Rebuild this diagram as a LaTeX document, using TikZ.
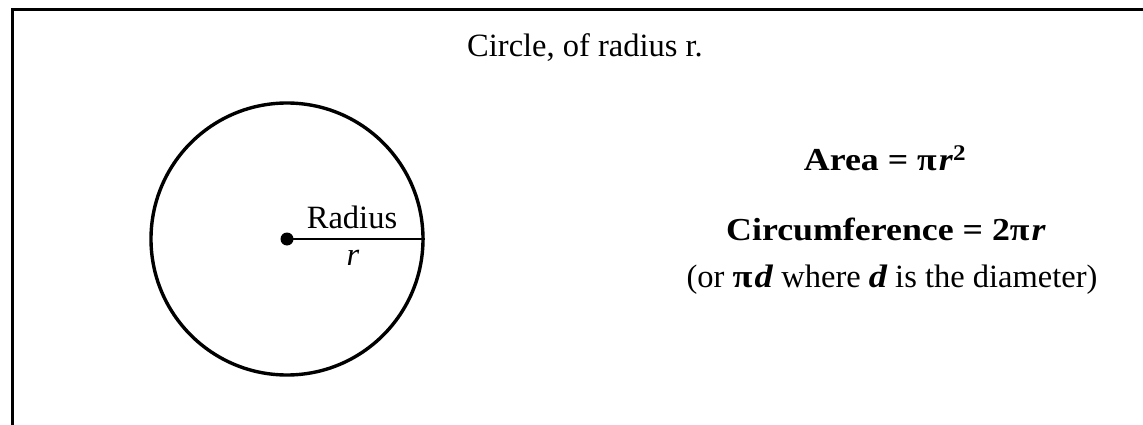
\documentclass[tikz,border=0pt]{standalone}
\usepackage{fontspec}
\setmainfont{Liberation Serif}
\newfontfamily\widefont[FakeStretch=1.12]{Liberation Serif}
\begin{document}
\begin{tikzpicture}[x=1pt,y=-1pt,
  txt/.style={anchor=base,inner sep=0pt,font=\fontsize{32.5}{38}\selectfont},
  boldtxt/.style={anchor=base,inner sep=0pt,font=\fontsize{32}{38}\selectfont\widefont\bfseries},
  outline/.style={line width=3pt}]
\useasboundingbox (0,0) rectangle (1143,425);
\draw[outline] (12,425) -- (12,10) -- (1143,10);
\node[txt] (title) at (585,57) {Circle, of radius r.};
\node[draw,circle,line width=3.4pt,minimum size=272pt,inner sep=0pt] (circ) at (287,239) {};
\node[circle,fill=black,minimum size=13pt,inner sep=0pt] (ctr) at (287,239) {};
\draw[line width=2.4pt] (ctr.center) -- (circ.east);
\node[txt] (rad) at (352,228) {Radius};
\node[txt] (rr) at (353,265) {\itshape r};
\node[boldtxt] (area) at (885,170) {Area = π\kern2pt\textit{r}\textsuperscript{2}};
\node[boldtxt] (circum) at (886,240) {Circumference = 2π\kern2pt\textit{r}};
\node[txt] (ortxt) at (892,287) {(or {\widefont\bfseries π\kern2pt\textit{d}} where {\widefont\bfseries\itshape d} is the diameter)};
\end{tikzpicture}
\end{document}
